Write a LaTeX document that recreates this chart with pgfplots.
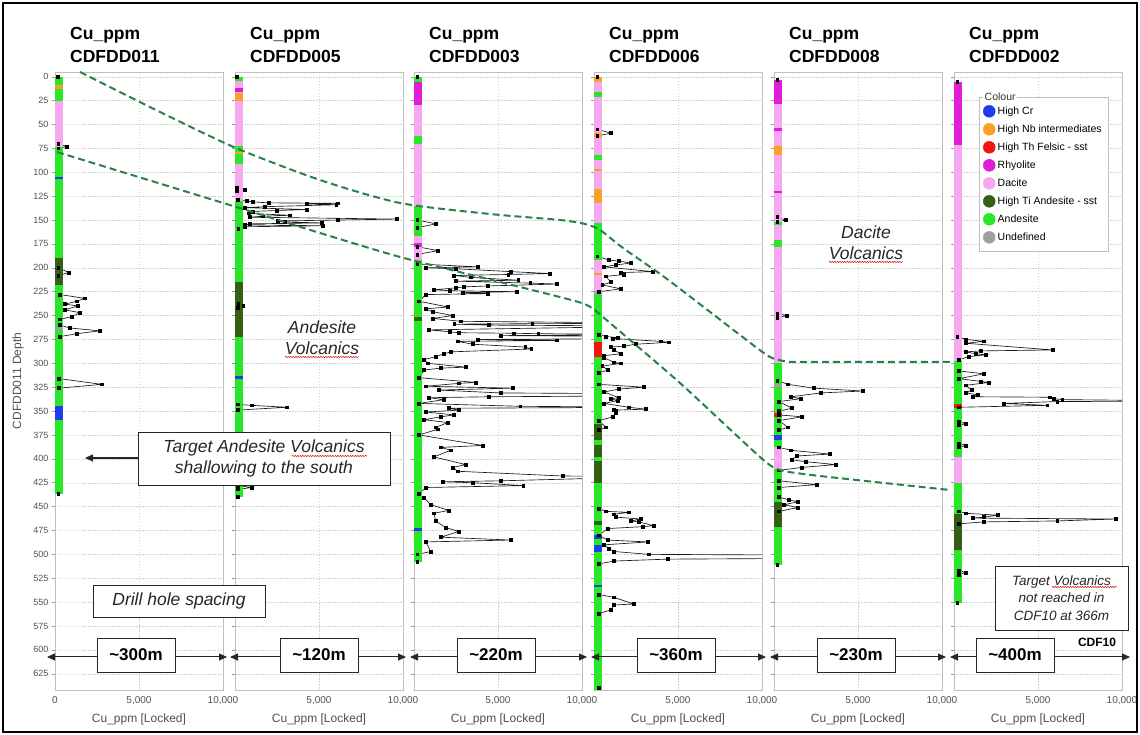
\documentclass[border=0pt]{standalone}
\usepackage{pgfplots}
\pgfplotsset{compat=1.18}
\usepackage{fontspec}
\setmainfont{Liberation Sans}
\usetikzlibrary{arrows.meta,decorations.pathmorphing}
\newcommand{\fs}[2]{\fontsize{#1}{#2}\selectfont}
\definecolor{cCr}{RGB}{30,60,235}
\definecolor{cNb}{RGB}{250,160,40}
\definecolor{cTh}{RGB}{240,20,20}
\definecolor{cRhy}{RGB}{225,30,215}
\definecolor{cDac}{RGB}{245,168,240}
\definecolor{cTi}{RGB}{55,95,20}
\definecolor{cAnd}{RGB}{40,230,40}
\definecolor{cUnd}{RGB}{160,160,160}
\definecolor{tickgray}{RGB}{80,80,80}
\definecolor{dashgreen}{RGB}{40,130,70}
\pgfplotsset{
 panel/.style={at={(#1,45pt)}, anchor=south west, scale only axis, width=168pt, height=618pt,
  xmin=0,xmax=10000,ymin=-5,ymax=642,y dir=reverse,
  axis line style={draw=gray!50, line width=0.6pt},
  xmajorgrids, ymajorgrids, major grid style={gray!35, dash pattern=on 1.5pt off 1.5pt, line width=0.4pt},
  xtick={0,5000,10000}, ytick={0,25,...,625},
  xticklabels={{},{5,000},{10,000}}, scaled x ticks=false, scaled y ticks=false,
  ytick pos=left, tick align=outside, major tick length=3pt,
  xtick style={draw=none}, ytick style={draw=gray!80, line width=0.5pt},
  tick label style={text=tickgray},
  xticklabel style={font=\fs{10}{12}},
  yticklabel style={font=\fs{9}{11}},
  xlabel={Cu\_ppm [Locked]},
  xlabel style={font=\fs{12}{14}, text=tickgray, at={(axis description cs:0.5,-0.047)}, anchor=center},
  unbounded coords=jump,
  /pgf/number format/assume math mode=true,
 },
 cu/.style={draw=black!90, line width=0.65pt, mark=square*, mark size=1.4pt, mark options={fill=black, draw=black}, forget plot},
 strip/.style={line width=8.5pt, no markers, line cap=butt, forget plot},
 leg/.style={only marks, mark=*, mark size=6pt, color=#1},
}
\tikzset{box/.style={draw=black!85, line width=0.8pt, fill=white, inner sep=2pt},
 arr/.style={line width=1pt, draw=black!85, {Triangle[length=8pt,width=7pt]}-{Triangle[length=8pt,width=7pt]}},
 dashline/.style={draw=dashgreen, line width=2pt, dash pattern=on 7pt off 4pt},
 squig/.style={draw=red!85!black, line width=0.5pt, decorate, decoration={snake, amplitude=0.6pt, segment length=2.5pt}}}
\begin{document}
\begin{tikzpicture}
\useasboundingbox (0,0) rectangle (1140pt,735pt);
% ---------- Panel 1 CDFDD011
\begin{axis}[panel=55pt, xticklabels={0,{5,000},{10,000}},
 ylabel={CDFDD011 Depth}, ylabel style={font=\fs{12}{14}, text=tickgray, at={(axis description cs:-0.22,0.5)}, anchor=center}]
\addplot[cu] coordinates {(150,0) (200,70) (700,73) (200,75) (200,200) (830,205) (200,208) (300,228) (1780,232) (1300,235) (600,238) (1360,240) (590,244) (1480,247) (1000,251) (300,254) (300,260) (890,263) (2660,266) (1300,269) (300,272) (250,316) (2780,322) (250,326) (200,437)};
\addplot[strip, cAnd] coordinates {(240,0) (240,437)};
\addplot[strip, cNb] coordinates {(240,9) (240,13)};
\addplot[strip, cDac] coordinates {(240,25) (240,74)};
\addplot[strip, cCr] coordinates {(240,105) (240,107.5) (nan,nan) (240,345) (240,359)};
\addplot[strip, cTi] coordinates {(240,190) (240,218)};
\addplot[strip, cUnd] coordinates {(240,262) (240,265)};
\end{axis}
% ---------- Panel 2 CDFDD005
\begin{axis}[panel=235pt, yticklabels={}]
\addplot[cu] coordinates {(100,0) (100,116) (590,118) (100,120) (150,129) (700,130) (1065,131) (2000,132) (6100,132.5) (4260,133) (6030,134) (1780,136) (600,137) (4260,139) (2490,140) (1065,141) (800,143) (3250,145) (1660,146) (900,147) (9640,149) (6100,150) (2550,151) (2960,152) (5150,153) (900,154) (590,155) (5210,156) (600,157) (200,159) (200,238) (500,240) (150,242) (150,343) (1000,344) (3080,346) (150,349) (150,428) (1000,430) (150,432) (150,440)};
\addplot[strip, cAnd] coordinates {(240,0) (240,440)};
\addplot[strip, cDac] coordinates {(240,4) (240,73) (nan,nan) (240,91) (240,130)};
\addplot[strip, cRhy] coordinates {(240,12) (240,16)};
\addplot[strip, cNb] coordinates {(240,17) (240,25) (nan,nan) (240,79) (240,80.5)};
\addplot[strip, cTi] coordinates {(240,215) (240,272)};
\addplot[strip, cCr] coordinates {(240,313) (240,316)};
\end{axis}
% ---------- Panel 3 CDFDD003
\begin{axis}[panel=414pt, yticklabels={}]
\addplot[cu] coordinates {(200,0) (200,150) (1300,154) (200,158) (200,178) (1420,182) (200,186) (200,196) (3790,199) (700,200) (2490,201) (5740,204) (8100,206) (5620,207) (2370,208) (3370,210) (6210,213) (2500,214) (6920,216) (8520,217) (4380,219) (2960,220) (2500,221) (1180,223) (2130,224) (6100,225) (2900,226) (4380,227) (700,228) (300,235) (2010,241) (700,243) (1125,246) (2310,250) (1125,253) (2780,256) (15000,258) (7040,258.5) (2400,259) (4440,260) (15000,261) (890,265) (2130,267) (2660,268) (5920,268.5) (7400,269) (15000,270) (5150,271) (15000,272) (15000,274) (3790,275) (8520,276) (2600,277) (3490,280) (6630,283) (6980,285) (2190,288) (1780,290) (1300,293) (600,296) (830,300) (3080,304) (1600,305) (600,307) (300,315) (3670,320) (2660,321) (700,324) (5860,326) (1480,328) (5150,331) (15000,332) (15000,334) (4440,335) (900,336) (1780,338) (300,342) (6330,345) (15000,346) (2070,347) (2660,349) (700,351) (2370,354) (1600,356) (600,359) (2010,362) (1300,367) (1420,369) (300,375) (4080,386) (1600,388) (2190,391) (1180,398) (3080,406) (2310,409) (2600,413) (8880,418) (15000,418.5) (5150,423) (1710,424) (3490,425) (6510,428) (700,430) (300,437) (600,441) (1000,448) (2070,454) (1180,457) (1300,465) (1890,472) (2660,476) (1600,482) (5740,485) (700,487) (1000,497) (200,500) (200,508)};
\addplot[strip, cAnd] coordinates {(240,0) (240,508)};
\addplot[strip, cRhy] coordinates {(240,6) (240,30) (nan,nan) (240,174) (240,178)};
\addplot[strip, cDac] coordinates {(240,30) (240,62) (nan,nan) (240,70) (240,135) (nan,nan) (240,167) (240,174) (nan,nan) (240,178) (240,192)};
\addplot[strip, cTi] coordinates {(240,251) (240,256)};
\addplot[strip, cCr] coordinates {(240,472) (240,476)};
\end{axis}
% ---------- Panel 4 CDFDD006
\begin{axis}[panel=594pt, yticklabels={}]
\addplot[cu] coordinates {(200,0) (200,55) (1000,59) (200,62) (200,188) (900,192) (1500,193) (2190,195) (1300,197) (600,199) (3490,204) (1600,205) (1780,207) (710,209) (1000,215) (500,218) (1600,222) (300,225) (300,270) (710,272) (1420,273) (1125,274) (3960,277) (4440,278) (2490,280) (1780,282) (1000,283) (1180,286) (1600,290) (600,292) (600,294) (1180,299) (1600,300) (500,303) (830,307) (300,310) (300,322) (2960,325) (1480,327) (600,330) (1480,336) (1000,337) (1420,339) (600,342) (2070,346) (3080,348) (1200,349) (1300,350) (1300,352) (1125,356) (300,360) (700,367) (300,370) (300,452) (710,455) (2070,456) (1200,458) (1300,461) (2780,463) (2190,465) (2660,466) (3550,470) (2900,471) (800,473) (300,480) (800,485) (3200,487) (600,490) (900,494) (1200,497) (3250,500) (15000,501) (15000,504) (4380,505) (1180,507) (300,510) (300,542) (1180,545) (2370,552) (1200,553) (1000,558) (300,562) (300,640)};
\addplot[strip, cAnd] coordinates {(240,0) (240,642)};
\addplot[strip, cNb] coordinates {(240,0) (240,6) (nan,nan) (240,59) (240,63) (nan,nan) (240,97) (240,99) (nan,nan) (240,118) (240,132) (nan,nan) (240,205) (240,208)};
\addplot[strip, cDac] coordinates {(240,6) (240,16) (nan,nan) (240,21) (240,59) (nan,nan) (240,63) (240,82) (nan,nan) (240,87) (240,97) (nan,nan) (240,99) (240,118) (nan,nan) (240,132) (240,153) (nan,nan) (240,192) (240,205) (nan,nan) (240,208) (240,224)};
\addplot[strip, cUnd] coordinates {(240,224) (240,228)};
\addplot[strip, cTh] coordinates {(240,278) (240,293)};
\addplot[strip, cTi] coordinates {(240,364) (240,380) (nan,nan) (240,385) (240,398) (nan,nan) (240,402) (240,425) (nan,nan) (240,465) (240,469)};
\addplot[strip, cCr] coordinates {(240,480) (240,484) (nan,nan) (240,490) (240,498) (nan,nan) (240,532) (240,534)};
\end{axis}
% ---------- Panel 5 CDFDD008
\begin{axis}[panel=774pt, yticklabels={}]
\addplot[cu] coordinates {(200,3) (200,147) (700,150) (200,152) (200,248) (770,250) (200,252) (200,318) (830,322) (2370,326) (5270,329) (2780,331) (1000,335) (1600,337) (300,340) (1060,347) (300,350) (300,354) (1660,356) (300,360) (830,367) (300,370) (300,388) (1000,391) (3310,395) (1360,397) (1060,401) (1890,403) (3670,406) (1660,409) (300,412) (300,423) (2550,427) (300,430) (300,440) (900,443) (1420,445) (600,448) (1420,451) (300,455) (200,511)};
\addplot[strip, cDac] coordinates {(240,3) (240,300)};
\addplot[strip, cRhy] coordinates {(240,3) (240,29) (nan,nan) (240,54) (240,57) (nan,nan) (240,120) (240,122)};
\addplot[strip, cNb] coordinates {(240,72) (240,82) (nan,nan) (240,330) (240,333) (nan,nan) (240,356) (240,360)};
\addplot[strip, cAnd] coordinates {(240,152) (240,155) (nan,nan) (240,171) (240,178) (nan,nan) (240,300) (240,511)};
\addplot[strip, cUnd] coordinates {(240,322) (240,325)};
\addplot[strip, cTh] coordinates {(240,352) (240,356)};
\addplot[strip, cCr] coordinates {(240,375) (240,380)};
\addplot[strip, cDac] coordinates {(240,388) (240,411)};
\addplot[strip, cTi] coordinates {(240,445) (240,471)};
\end{axis}
% ---------- Panel 6 CDFDD002
\begin{axis}[panel=954pt, yticklabels={},
 legend cell align=left,
 legend style={at={(0.149,0.9595)}, anchor=north west, draw=gray!50, fill=white, font=\fs{10.5}{12.5}, row sep=3.9pt, inner xsep=4pt, inner ysep=7pt, nodes={inner sep=2.5pt}}]
\addplot[cu] coordinates {(200,5) (200,272) (700,275) (1780,277) (700,279) (5860,286) (1600,287) (700,288) (1300,290) (1900,291) (900,293) (300,296) (300,308) (1780,311) (300,316) (1600,319) (2070,320) (700,323) (1060,328) (700,331) (1420,333) (1125,335) (5680,335.5) (5920,337) (6450,338) (15000,339.5) (6150,340) (2960,342) (5560,344) (300,346) (300,361) (700,363) (300,365) (300,384) (700,386) (300,388) (300,455) (700,457) (2600,459) (1780,461) (1125,462) (9640,463) (6150,465) (1780,466) (300,468) (300,517) (700,519) (300,521) (200,551)};
\addplot[strip, cAnd] coordinates {(240,5) (240,551)};
\addplot[strip, cRhy] coordinates {(240,5) (240,71)};
\addplot[strip, cDac] coordinates {(240,71) (240,298) (nan,nan) (240,398) (240,425)};
\addplot[strip, cTh] coordinates {(240,343) (240,347)};
\addplot[strip, cTi] coordinates {(240,458) (240,495)};
\addlegendimage{leg=cCr}\addlegendentry{High Cr}
\addlegendimage{leg=cNb}\addlegendentry{High Nb intermediates}
\addlegendimage{leg=cTh}\addlegendentry{High Th Felsic - sst}
\addlegendimage{leg=cRhy}\addlegendentry{Rhyolite}
\addlegendimage{leg=cDac}\addlegendentry{Dacite}
\addlegendimage{leg=cTi}\addlegendentry{High Ti Andesite - sst}
\addlegendimage{leg=cAnd}\addlegendentry{Andesite}
\addlegendimage{leg=cUnd}\addlegendentry{Undefined}
\end{axis}
% ---------- Legend title
\node[anchor=west, fill=white, inner sep=1.5pt, font=\fs{10.5}{12.5}, text=black!80] at (983pt,638pt) {Colour};
% ---------- Titles
\foreach \xx/\hh in {70/CDFDD011, 250/CDFDD005, 429/CDFDD003, 609/CDFDD006, 789/CDFDD008, 969/CDFDD002}{
 \node[anchor=base west, inner sep=0pt, font=\bfseries\fs{17.5}{20}] at (\xx pt,695pt) {Cu\_ppm};
 \node[anchor=base west, inner sep=0pt, font=\bfseries\fs{17.5}{20}] at (\xx pt,672pt) {\hh};
}
% ---------- Dashed contacts
\draw[dashline] plot[smooth, tension=0.45] coordinates {(80pt,663pt) (160pt,623pt) (236pt,587pt) (320pt,555pt) (400pt,532pt) (490pt,521pt) (560pt,515pt) (585pt,511pt) (600pt,505pt) (623pt,487pt) (667pt,456pt) (740pt,400pt) (770pt,378pt) (790pt,373pt)} -- (952pt,373pt);
\draw[dashline] plot[smooth, tension=0.4] coordinates {(57pt,583pt) (145pt,556pt) (233pt,529pt) (320pt,502pt) (400pt,478pt) (500pt,453pt) (575pt,434pt) (592pt,427pt) (610pt,412pt) (680pt,352pt) (760pt,278pt) (780pt,265pt) (820pt,259pt) (950pt,245pt)};
% ---------- Italic labels
\node[font=\itshape\fs{17.5}{21}, align=center, text=black!85] at (322pt,397pt) {Andesite\\Volcanics};
\node[font=\itshape\fs{17.5}{21}, align=center, text=black!85] at (866pt,492pt) {Dacite\\Volcanics};
\draw[squig] (285pt,378pt) -- (359pt,378pt);
\draw[squig] (829pt,473pt) -- (903pt,473pt);
% ---------- Target box and arrow
\draw[line width=1.3pt, draw=black!85, -{Triangle[length=8pt,width=7pt]}] (140pt,277pt) -- (85pt,277pt);
\node[box, font=\itshape\fs{17.5}{21}, align=center, minimum width=252pt, minimum height=53pt, text=black!85] at (264pt,276.5pt) {Target Andesite Volcanics\\shallowing to the south};
\draw[squig] (292pt,279pt) -- (367pt,279pt);
\node[box, font=\itshape\fs{17.5}{21}, minimum width=172pt, minimum height=32pt, text=black!85] at (179pt,134pt) {Drill hole spacing};
\node[box, font=\itshape\fs{13.5}{17.5}, align=center, minimum width=133pt, minimum height=64pt, text=black!85] at (1061.5pt,137pt) {Target Volcanics\\not reached in\\CDF10 at 366m};
\draw[squig] (1052pt,148pt) -- (1117pt,148pt);
% ---------- Spacing arrows
\draw[arr] (47pt,78pt) -- (227pt,78pt);
\draw[arr] (230pt,78pt) -- (406pt,78pt);
\draw[arr] (410pt,78pt) -- (587pt,78pt);
\draw[arr] (591pt,78pt) -- (766pt,78pt);
\draw[arr] (770pt,78pt) -- (946pt,78pt);
\draw[arr] (950pt,78pt) -- (1130pt,78pt);
\foreach \cx/\lab in {136/300, 319/120, 496/220, 676/360, 856/230, 1015/400}{
 \node[box, font=\bfseries\fs{17}{20}, minimum width=78pt, minimum height=34pt] at (\cx pt,80pt) {\textasciitilde\lab m};
}
\node[font=\bfseries\fs{12}{14}] at (1097pt,93pt) {CDF10};
% ---------- Outer frame
\draw[line width=1.8pt] (3pt,3pt) rectangle (1137pt,732pt);
\end{tikzpicture}
\end{document}
